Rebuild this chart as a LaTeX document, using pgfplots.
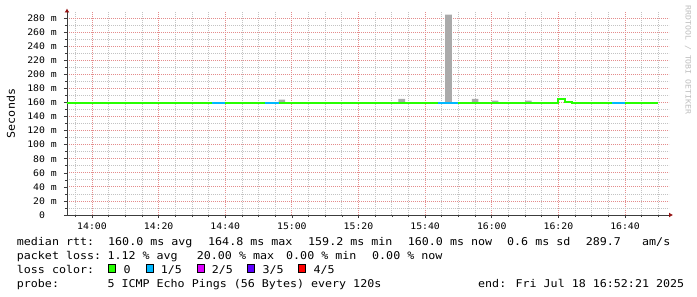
\documentclass[border=0pt]{standalone}
\usepackage{fontspec}
\usepackage{pgfplots}
\pgfplotsset{compat=1.18}
\usetikzlibrary{arrows.meta}
\newfontfamily\rrd{DejaVu Sans Mono}[FakeStretch=1.09]
\newcommand\legfont{\rrd\fontsize{10.7bp}{12bp}\selectfont}
\newcommand\tickfont{\rrd\fontsize{9bp}{10bp}\selectfont}
\newcommand\wmfont{\rrd\fontsize{7.5bp}{8bp}\selectfont}
\definecolor{lc0}{HTML}{26FF00}
\definecolor{lc1}{HTML}{00B8FF}
\definecolor{lc2}{HTML}{DD00FF}
\definecolor{lc3}{HTML}{5E00FF}
\definecolor{lc4}{HTML}{FF0000}
\definecolor{smoke}{RGB}{170,170,170}
\definecolor{mgrid}{RGB}{228,140,140}
\definecolor{ngrid}{RGB}{195,195,195}
\definecolor{arrowred}{RGB}{150,20,20}
\definecolor{axiscol}{RGB}{60,60,60}
\begin{document}
\begin{tikzpicture}
\fill[white] (0,0) rectangle (697bp,-297bp);
\begin{axis}[
  scale only axis, width=602bp, height=202.5bp,
  at={(67bp,-215bp)}, anchor=south west,
  xmin=-7.5, xmax=173.2, ymin=0, ymax=288,
  axis lines=left,
  axis line style={axiscol, line width=0.8bp},
  x axis line style={-{Latex[length=4bp,width=5bp,color=arrowred]}, shorten >=-4bp},
  y axis line style={-{Latex[length=4bp,width=5bp,color=arrowred]}, shorten >=-4bp},
  tick align=outside, major tick length=3bp, minor tick length=2bp,
  tick style={axiscol, line width=0.6bp},
  grid=both,
  major grid style={mgrid, dash pattern=on 1bp off 1bp, line width=0.8bp},
  minor grid style={ngrid, dash pattern=on 1bp off 1bp, line width=0.8bp},
  xtick={0,20,...,160},
  xticklabels={14:00,14:20,14:40,15:00,15:20,15:40,16:00,16:20,16:40},
  minor xtick={-5,5,10,15,25,30,35,45,50,55,65,70,75,85,90,95,105,110,115,125,130,135,145,150,155,165,170},
  ytick={0,20,...,280},
  yticklabels={{0\hphantom{xx}},{20 m},{40 m},{60 m},{80 m},{100 m},{120 m},{140 m},{160 m},{180 m},{200 m},{220 m},{240 m},{260 m},{280 m}},
  minor ytick={10,30,...,270},
  xticklabel style={font=\tickfont, anchor=north, inner sep=0pt, yshift=-5bp},
  yticklabel style={font=\tickfont, anchor=east, inner sep=0pt, xshift=-7bp},
]
% smoke (spread of pings above the median)
\addplot[fill=smoke, draw=none] coordinates {
  (56,160)(56,164)(58,164)(58,160)
  (92,160)(92,165)(94,165)(94,160)
  (106,160)(106,285)(108,285)(108,160)
  (114,160)(114,165)(116,165)(116,160)
  (120,160)(120,162.5)(122,162.5)(122,160)
  (130,160)(130,162.5)(132,162.5)(132,160)
};
% median rtt, 0 loss
\addplot[const plot, lc0, line width=2bp, mark=none] coordinates {
  (-8,160)(12,158.6)(14,160)(24,158.6)(26,160)(30,158.6)(32,160)
  (86,158.6)(88,160)(140,164.8)(142,161.3)(144,160)(170,160)
};
% median rtt, 1/5 loss
\addplot[lc1, line width=2bp, mark=none, unbounded coords=jump] coordinates {
  (36,160)(40,160)(41,nan)(52,160)(56,160)(57,nan)
  (104,160)(110,160)(111,nan)(156,160)(160,160)
};
\end{axis}
\node[font=\legfont, rotate=90, inner sep=0pt, anchor=center] at (10.8bp,-113.5bp) {Seconds};
\node[font=\wmfont, rotate=-90, inner sep=0pt, anchor=center, text=black!25] at (688bp,-60bp) {RRDTOOL / TOBI OETIKER};
\begin{scope}[every node/.style={inner sep=0pt, anchor=base west, font=\legfont}]
\node at (16.7bp,-245.8bp) {median rtt:};
\node at (108bp,-245.8bp) {160.0 ms avg};
\node at (208bp,-245.8bp) {164.8 ms max};
\node at (308bp,-245.8bp) {159.2 ms min};
\node at (407.7bp,-245.8bp) {160.0 ms now};
\node at (507bp,-245.8bp) {0.6 ms sd};
\node at (585.7bp,-245.8bp) {289.7};
\node at (642bp,-245.8bp) {am/s};
\node at (16.7bp,-259.6bp) {packet loss:};
\node at (107.3bp,-259.6bp) {1.12 \% avg};
\node at (196.7bp,-259.6bp) {20.00 \% max};
\node at (286bp,-259.6bp) {0.00 \% min};
\node at (372bp,-259.6bp) {0.00 \% now};
\node at (16.7bp,-273.4bp) {loss color:};
\node at (123.3bp,-273.4bp) {0};
\node at (160.7bp,-273.4bp) {1/5};
\node at (211.7bp,-273.4bp) {2/5};
\node at (262.3bp,-273.4bp) {3/5};
\node at (313.3bp,-273.4bp) {4/5};
\node at (16.7bp,-287.2bp) {probe:};
\node at (107.3bp,-287.2bp) {5 ICMP Echo Pings (56 Bytes) every 120s};
\node at (478bp,-287.2bp) {end: Fri Jul 18 16:52:21 2025};
\end{scope}
\draw[black, line width=0.8bp, fill=lc0] (108.5bp,-272.7bp) rectangle (115.5bp,-264.7bp);
\draw[black, line width=0.8bp, fill=lc1] (145.9bp,-272.7bp) rectangle (152.9bp,-264.7bp);
\draw[black, line width=0.8bp, fill=lc2] (196.9bp,-272.7bp) rectangle (203.9bp,-264.7bp);
\draw[black, line width=0.8bp, fill=lc3] (247.5bp,-272.7bp) rectangle (254.5bp,-264.7bp);
\draw[black, line width=0.8bp, fill=lc4] (298.5bp,-272.7bp) rectangle (305.5bp,-264.7bp);
\pgfresetboundingbox
\useasboundingbox (0,0) rectangle (697bp,-297bp);
\end{tikzpicture}
\end{document}
